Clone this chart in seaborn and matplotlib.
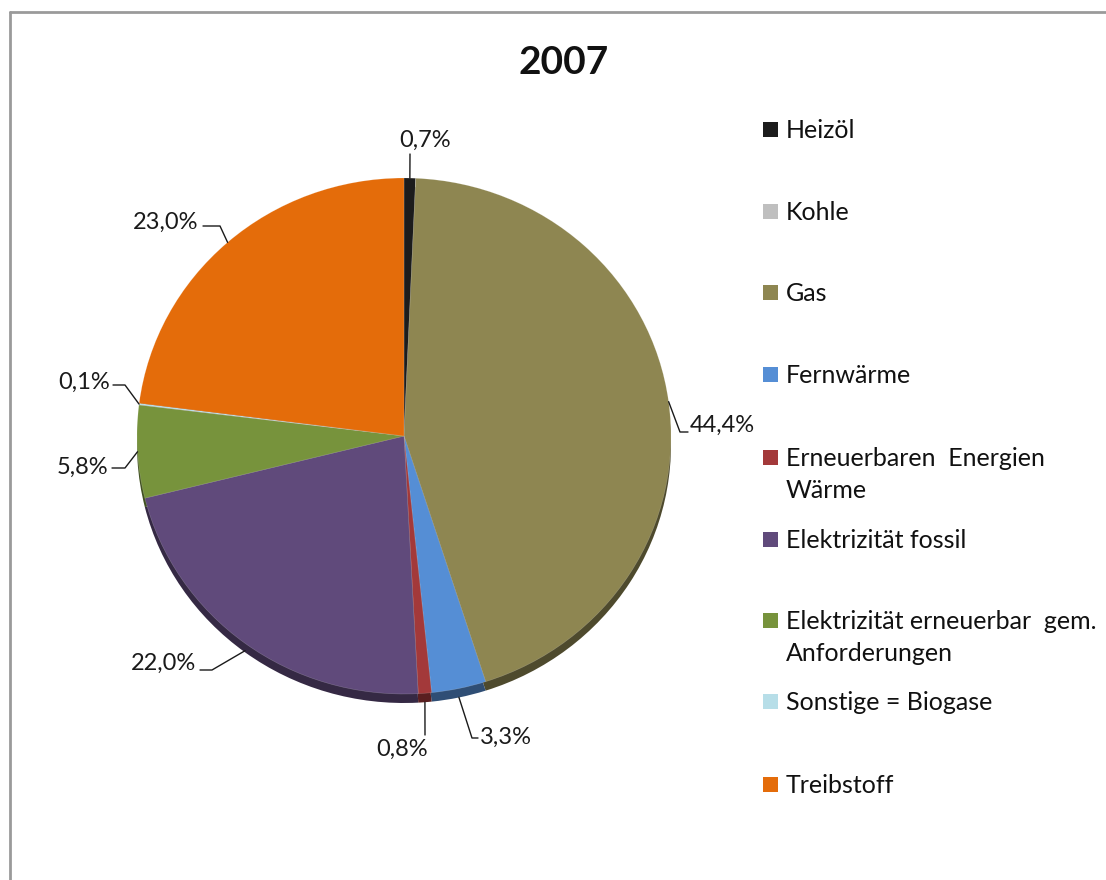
import matplotlib
matplotlib.use("Agg")
import matplotlib.pyplot as plt
import matplotlib.colors as mcolors
from matplotlib.lines import Line2D
from matplotlib.patches import Rectangle
import numpy as np
import seaborn as sns

sns.set_theme(style="white")
plt.rcParams["font.family"] = ["Lato", "DejaVu Sans"]

# Energy shares 2007 (%)
categories = ["Heizöl", "Kohle", "Gas", "Fernwärme",
              "Erneuerbaren  Energien\nWärme", "Elektrizität fossil",
              "Elektrizität erneuerbar  gem.\nAnforderungen",
              "Sonstige = Biogase", "Treibstoff"]
shares = [0.7, 0.0, 44.4, 3.3, 0.8, 22.0, 5.8, 0.1, 23.0]
share_labels = ["0,7%", "", "44,4%", "3,3%", "0,8%", "22,0%", "5,8%", "0,1%", "23,0%"]
colors = ["#1c1c1c", "#bfbfbf", "#8e8651", "#558ed5", "#a3393a",
          "#604a7b", "#77933c", "#b7dee8", "#e46c0a"]

W, H = 1106, 880
fig = plt.figure(figsize=(W / 100, H / 100), dpi=100)
fig.patch.set_facecolor("white")


def fx(x):
    return x / W


def fy(y):
    return 1 - y / H


# outer chart frame (top and left edges)
fig.add_artist(Line2D([fx(10), fx(10)], [fy(12), fy(H + 5)], color="#9a9a9a", lw=2))
fig.add_artist(Line2D([fx(10), fx(W + 5)], [fy(12), fy(12)], color="#9a9a9a", lw=2))

# pie geometry (slightly flattened ellipse)
cx, cy, rx, ry = 404, 436, 267, 258
pad = 1.1
ax = fig.add_axes([fx(cx - rx * pad), fy(cy + ry * pad),
                   2 * rx * pad / W, 2 * ry * pad / H])

depth = 9 / ry
dark = [tuple(np.array(mcolors.to_rgb(c)) * 0.55) for c in colors]
ax.pie(shares, colors=dark, startangle=90, counterclock=False,
       center=(0, -depth), radius=1, normalize=True,
       wedgeprops=dict(linewidth=0))
wedges, _ = ax.pie(shares, colors=colors, startangle=90, counterclock=False,
                   center=(0, 0), radius=1, normalize=True,
                   wedgeprops=dict(linewidth=0.4, edgecolor="#ffffff40"))
ax.set_xlim(-pad, pad)
ax.set_ylim(-pad, pad)
ax.set_aspect("auto")
ax.axis("off")

fig.canvas.draw()


def to_px(xd, yd):
    dx, dy = ax.transData.transform((xd, yd))
    return dx, H - dy


# label placement: (text x, text y, ha, elbow points in px)
label_layout = {
    0: dict(tx=425, ty=140, ha="center", path=[(410, 154)]),
    2: dict(tx=690, ty=425, ha="left", path=[(680, 432), (688, 432)]),
    3: dict(tx=480, ty=737, ha="left", path=[(472, 738), (478, 738)]),
    4: dict(tx=428, ty=749, ha="right", path=[(425, 735)]),
    5: dict(tx=196, ty=663, ha="right", path=[(212, 670), (200, 670)]),
    6: dict(tx=108, ty=467, ha="right", path=[(125, 468), (112, 468)]),
    7: dict(tx=110, ty=382, ha="right", path=[(125, 385), (113, 385)]),
    8: dict(tx=198, ty=222, ha="right", path=[(220, 226), (203, 226)]),
}

for i, w in enumerate(wedges):
    if i not in label_layout:
        continue
    lay = label_layout[i]
    mid = np.deg2rad((w.theta1 + w.theta2) / 2)
    ax_x, ax_y = np.cos(mid), np.sin(mid)
    if ax_y < -0.3:
        ax_y -= depth * abs(ax_y)
    ax0 = to_px(ax_x * 1.0, ax_y * 1.0)
    pts = [ax0] + lay["path"]
    xs = [fx(p[0]) for p in pts]
    ys = [fy(p[1]) for p in pts]
    fig.add_artist(Line2D(xs, ys, color="#1a1a1a", lw=1.0))
    fig.text(fx(lay["tx"]), fy(lay["ty"]), share_labels[i], ha=lay["ha"],
             va="center", fontsize=17, color="#1a1a1a")

# title
fig.text(fx(564), fy(62), "2007", ha="center", va="center",
         fontsize=28, fontweight="bold", color="#111111")

# legend
legend_rows = [130, 212, 293, 375, 458, 540, 621, 702, 785]
for cat, col, ly in zip(categories, colors, legend_rows):
    fig.add_artist(Rectangle((fx(763), fy(ly + 7)), 15 / W, 15 / H,
                             transform=fig.transFigure, facecolor=col,
                             edgecolor="none"))
    fig.text(fx(786), fy(ly - 11), cat, ha="left", va="top",
             fontsize=18, color="#111111", linespacing=1.45)

fig.savefig("out.png", dpi=100, facecolor="white")
